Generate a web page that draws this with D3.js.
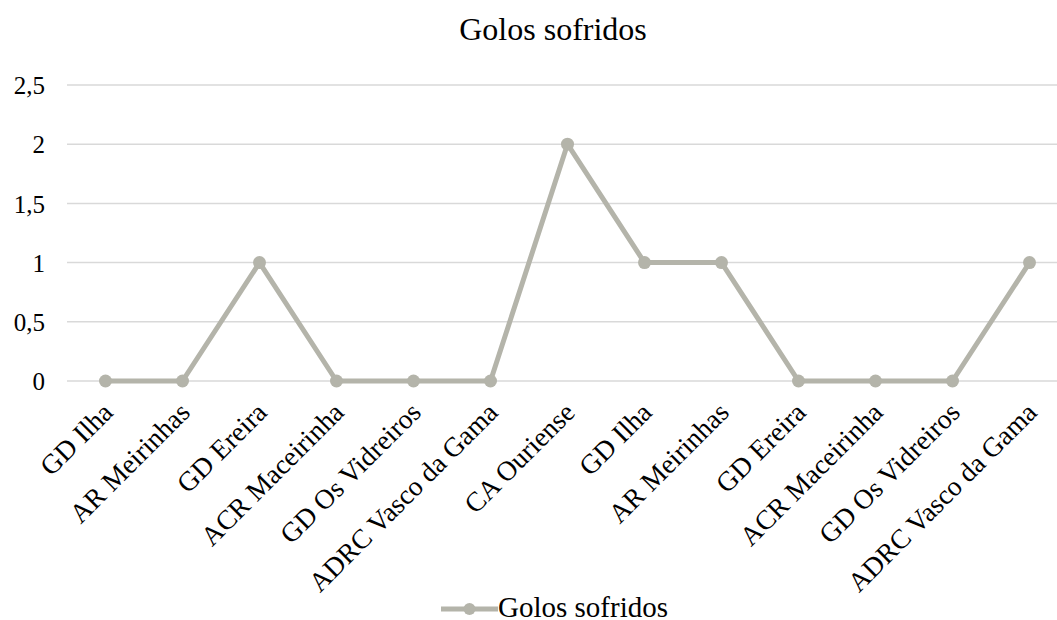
<!DOCTYPE html>
<html>
<head>
<meta charset="utf-8">
<script src="https://cdn.jsdelivr.net/npm/d3@7"></script>
<style>
  body { margin: 0; background: #fff; }
  svg { font-family: "Liberation Serif", "Times New Roman", serif; }
</style>
</head>
<body>
<div id="chart"></div>
<script>
const categories = ["GD Ilha", "AR Meirinhas", "GD Ereira", "ACR Maceirinha", "GD Os Vidreiros",
  "ADRC Vasco da Gama", "CA Ouriense", "GD Ilha", "AR Meirinhas", "GD Ereira",
  "ACR Maceirinha", "GD Os Vidreiros", "ADRC Vasco da Gama"];
const golosSofridos = [0, 0, 1, 0, 0, 0, 2, 1, 1, 0, 0, 0, 1];
const yTicks = [0, 0.5, 1, 1.5, 2, 2.5];
const seriesName = "Golos sofridos";

const W = 1057, H = 620;
const margin = { top: 85, right: -11, bottom: 239, left: 67 };
const lineColor = "#b4b4aa";

const svg = d3.select("#chart").append("svg")
  .attr("width", W)
  .attr("height", H);

// index keys so repeated team names stay separate
const keys = categories.map((c, i) => i);

const x = d3.scaleBand()
  .domain(keys)
  .range([margin.left, W - margin.right]);

const y = d3.scaleLinear()
  .domain([0, 2.5])
  .range([H - margin.bottom, margin.top]);

const fmt = d => String(d).replace(".", ",");

// title
svg.append("text")
  .attr("x", 553)
  .attr("y", 40)
  .attr("text-anchor", "middle")
  .style("font-size", "32px")
  .text(seriesName);

// gridlines
svg.append("g")
  .selectAll("line")
  .data(yTicks)
  .enter().append("line")
  .attr("x1", margin.left)
  .attr("x2", W - margin.right)
  .attr("y1", d => y(d))
  .attr("y2", d => y(d))
  .attr("stroke", "#d9d9d9")
  .attr("stroke-width", 1.5);

// y axis labels
const yAxis = svg.append("g")
  .attr("transform", `translate(${margin.left - 22},0)`)
  .call(d3.axisLeft(y).tickValues(yTicks).tickFormat(fmt).tickSize(0));
yAxis.select(".domain").remove();
yAxis.selectAll("text")
  .attr("x", 0)
  .attr("dy", "0.35em")
  .style("font-family", "Liberation Serif, serif")
  .style("font-size", "25px")
  .attr("fill", "#000");

// x axis labels
const xAxis = svg.append("g")
  .attr("transform", `translate(0,${y(0)})`)
  .call(d3.axisBottom(x).tickFormat(i => categories[i]).tickSize(0));
xAxis.select(".domain").remove();
xAxis.selectAll("text")
  .attr("text-anchor", "end")
  .attr("x", 0)
  .attr("y", 0)
  .attr("dy", 0)
  .attr("transform", "translate(9,33) rotate(-45)")
  .style("font-family", "Liberation Serif, serif")
  .style("font-size", "27.5px")
  .attr("fill", "#000");

// line
const cx = i => x(i) + x.bandwidth() / 2;
const line = d3.line()
  .x((d, i) => cx(i))
  .y(d => y(d));

svg.append("path")
  .datum(golosSofridos)
  .attr("d", line)
  .attr("fill", "none")
  .attr("stroke", lineColor)
  .attr("stroke-width", 5)
  .attr("stroke-linejoin", "round");

svg.append("g")
  .selectAll("circle")
  .data(golosSofridos)
  .enter().append("circle")
  .attr("cx", (d, i) => cx(i))
  .attr("cy", d => y(d))
  .attr("r", 6.5)
  .attr("fill", lineColor);

// legend
const legend = svg.append("g").attr("transform", "translate(441,609)");
legend.append("line")
  .attr("x1", 0).attr("x2", 57)
  .attr("y1", 0).attr("y2", 0)
  .attr("stroke", lineColor)
  .attr("stroke-width", 5);
legend.append("circle")
  .attr("cx", 28.5).attr("cy", 0).attr("r", 6)
  .attr("fill", lineColor);
legend.append("text")
  .attr("x", 57)
  .attr("y", 8)
  .style("font-size", "29px")
  .text(seriesName);
</script>
</body>
</html>
